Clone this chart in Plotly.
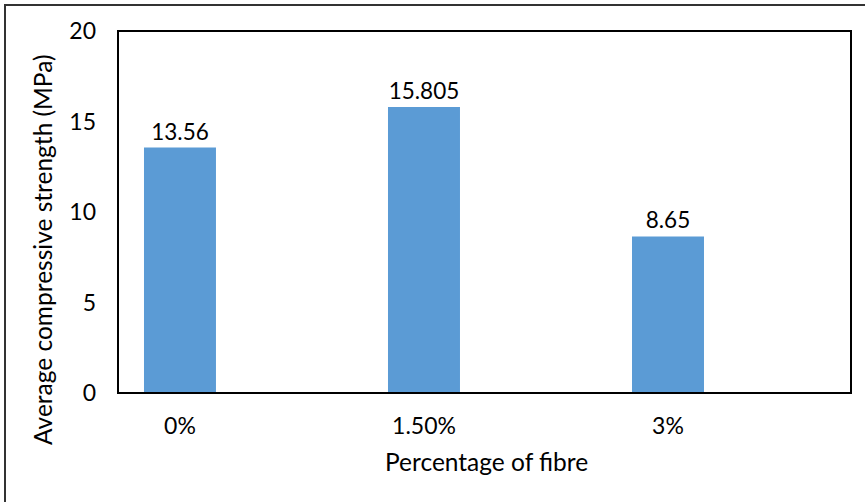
import plotly.graph_objects as go

categories = ["0%", "1.50%", "3%"]
strength = [13.56, 15.805, 8.65]
strength_labels = ["13.56", "15.805", "8.65"]
y_ticks = [0, 5, 10, 15, 20]

FONT = "Lato"
W, H = 865, 502
L, T, R, B = 118, 31, 14, 109
plot_w = W - L - R
plot_h = H - T - B


def px_x(p):
    return (p - L) / plot_w


def px_y(p):
    return (H - B - p) / plot_h


fig = go.Figure(
    go.Bar(
        x=list(range(len(categories))),
        y=strength,
        text=strength_labels,
        textposition="outside",
        constraintext="none",
        textfont=dict(family=FONT, size=22.5, color="#000000"),
        cliponaxis=False,
        marker=dict(color="#5B9BD5", line=dict(width=0)),
        width=0.295,
    )
)

fig.update_layout(
    width=W,
    height=H,
    margin=dict(l=L, r=R, t=T, b=B),
    paper_bgcolor="white",
    plot_bgcolor="white",
    showlegend=False,
    font=dict(family=FONT, size=22, color="#000000"),
    xaxis=dict(
        range=[-0.254, 2.75],
        tickmode="array",
        tickvals=list(range(len(categories))),
        ticktext=categories,
        tickfont=dict(family=FONT, size=23),
        showgrid=False,
        zeroline=False,
        showline=False,
        ticks="",
        ticklabelstandoff=17,
    ),
    yaxis=dict(
        range=[0, 20],
        tickvals=y_ticks,
        tickfont=dict(family=FONT, size=23),
        showgrid=False,
        zeroline=False,
        showline=False,
        ticks="",
        ticklabelstandoff=21,
    ),
    annotations=[
        dict(text="Percentage of fibre", xref="paper", yref="paper",
             x=px_x(486), y=px_y(461), xanchor="center", yanchor="middle",
             showarrow=False, font=dict(family=FONT, size=24.5)),
        dict(text="Average compressive strength (MPa)", xref="paper", yref="paper",
             x=px_x(42), y=px_y(250), xanchor="center", yanchor="middle",
             textangle=-90, showarrow=False, font=dict(family=FONT, size=24.5)),
    ],
    shapes=[
        # plot area frame
        dict(type="rect", xref="paper", yref="paper", x0=0, y0=0, x1=1, y1=1,
             line=dict(color="#000000", width=2), layer="above"),
        # outer chart frame
        dict(type="rect", xref="paper", yref="paper",
             x0=px_x(5), y0=-2, x1=2, y1=px_y(5),
             line=dict(color="#333333", width=2), layer="above"),
    ],
)

fig.write_html("out.html")
